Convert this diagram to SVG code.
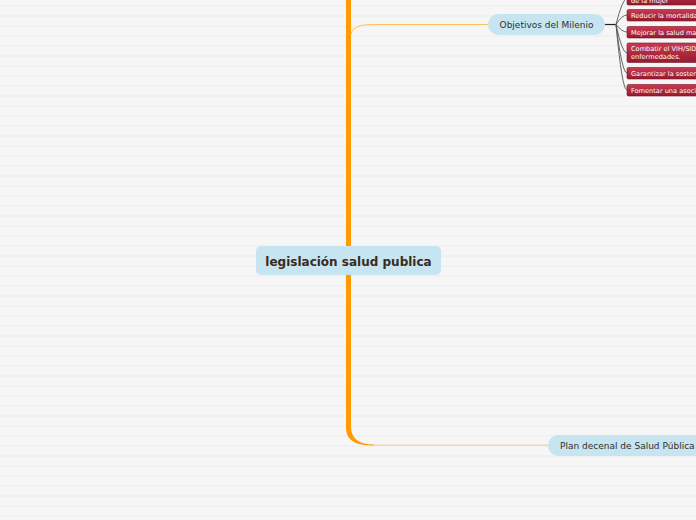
<svg xmlns="http://www.w3.org/2000/svg" width="696" height="520" viewBox="0 0 696 520">
<defs>
<pattern id="bg" x="0" y="0" width="696" height="10" patternUnits="userSpaceOnUse">
<rect width="696" height="10" fill="#f6f6f6"/>
<rect y="5.5" width="696" height="1" fill="#ededed"/>
</pattern>
<linearGradient id="red" x1="0" y1="0" x2="0" y2="1">
<stop offset="0" stop-color="#c93a52"/>
<stop offset="1" stop-color="#951b30"/>
</linearGradient>
<style>
.node{fill:#c6e5f0}
.t{font-family:"DejaVu Sans",Verdana,sans-serif;fill:#2f2f2f;font-size:9px}
.main{font-family:"DejaVu Sans",Verdana,sans-serif;fill:#3a2a20;font-size:12px;font-weight:bold}
.sub{fill:url(#red);stroke:#7e1424;stroke-width:0.6}
.st{font-family:"DejaVu Sans",Verdana,sans-serif;fill:#ffffff;font-size:6.6px}
.fan{fill:none;stroke:#555;stroke-width:0.9}
</style>
</defs>
<rect width="696" height="520" fill="url(#bg)"/>
<g id="connectors">
<path d="M346,0 L351,0 L351,428 Q352,444.5 374,444.6 L374,445.6 Q346,446 346,428 Z" fill="#ff9a00"/>
<path d="M351,34 Q352,24.5 372,24.5 L488,24.5" fill="none" stroke="#ffbf5c" stroke-width="1"/>
<path d="M374,445.1 L548,445.1" fill="none" stroke="#f7c88e" stroke-width="1"/>
<path d="M605,24.5 L616,24.5" fill="none" stroke="#222" stroke-width="1.2"/>
<path class="fan" d="M616,24.5 Q622,0 627,-2"/>
<path class="fan" d="M616,24.5 Q622,15 627,15"/>
<path class="fan" d="M616,24.5 Q622,32 627,32"/>
<path class="fan" d="M616,24.5 Q622,53 627,53"/>
<path class="fan" d="M616,24.5 Q622,73 627,73"/>
<path class="fan" d="M616,24.5 Q622,90 627,90"/>
</g>
<g id="main">
<rect class="node" x="256" y="246" width="185" height="29" rx="5"/>
<text class="main" x="348.5" y="265.5" text-anchor="middle">legislación salud publica</text>
</g>
<g id="objetivos">
<rect class="node" x="488" y="14" width="117" height="21" rx="10.5"/>
<text class="t" x="546.5" y="28" text-anchor="middle">Objetivos del Milenio</text>
</g>
<g id="plan">
<rect class="node" x="548" y="435" width="160" height="21" rx="10.5"/>
<text class="t" x="560" y="449">Plan decenal de Salud Pública</text>
</g>
<g id="sub1">
<rect class="sub" x="627" y="-12" width="80" height="17" rx="1.5"/>
<text class="st" x="631" y="2.5">de la mujer</text>
</g>
<g id="sub2">
<rect class="sub" x="627" y="9.5" width="80" height="11.5" rx="1.5"/>
<text class="st" x="631" y="17.8">Reducir la mortalidad</text>
</g>
<g id="sub3">
<rect class="sub" x="627" y="26.5" width="80" height="11.5" rx="1.5"/>
<text class="st" x="631" y="34.8">Mejorar la salud ma</text>
</g>
<g id="sub4">
<rect class="sub" x="627" y="43" width="80" height="19.5" rx="1.5"/>
<text class="st" x="631" y="51">Combatir el VIH/SID</text>
<text class="st" x="631" y="59.2">enfermedades.</text>
</g>
<g id="sub5">
<rect class="sub" x="627" y="67.5" width="80" height="11.5" rx="1.5"/>
<text class="st" x="631" y="75.8">Garantizar la sosten</text>
</g>
<g id="sub6">
<rect class="sub" x="627" y="84.5" width="80" height="11.5" rx="1.5"/>
<text class="st" x="631" y="92.8">Fomentar una asocia</text>
</g>
</svg>
